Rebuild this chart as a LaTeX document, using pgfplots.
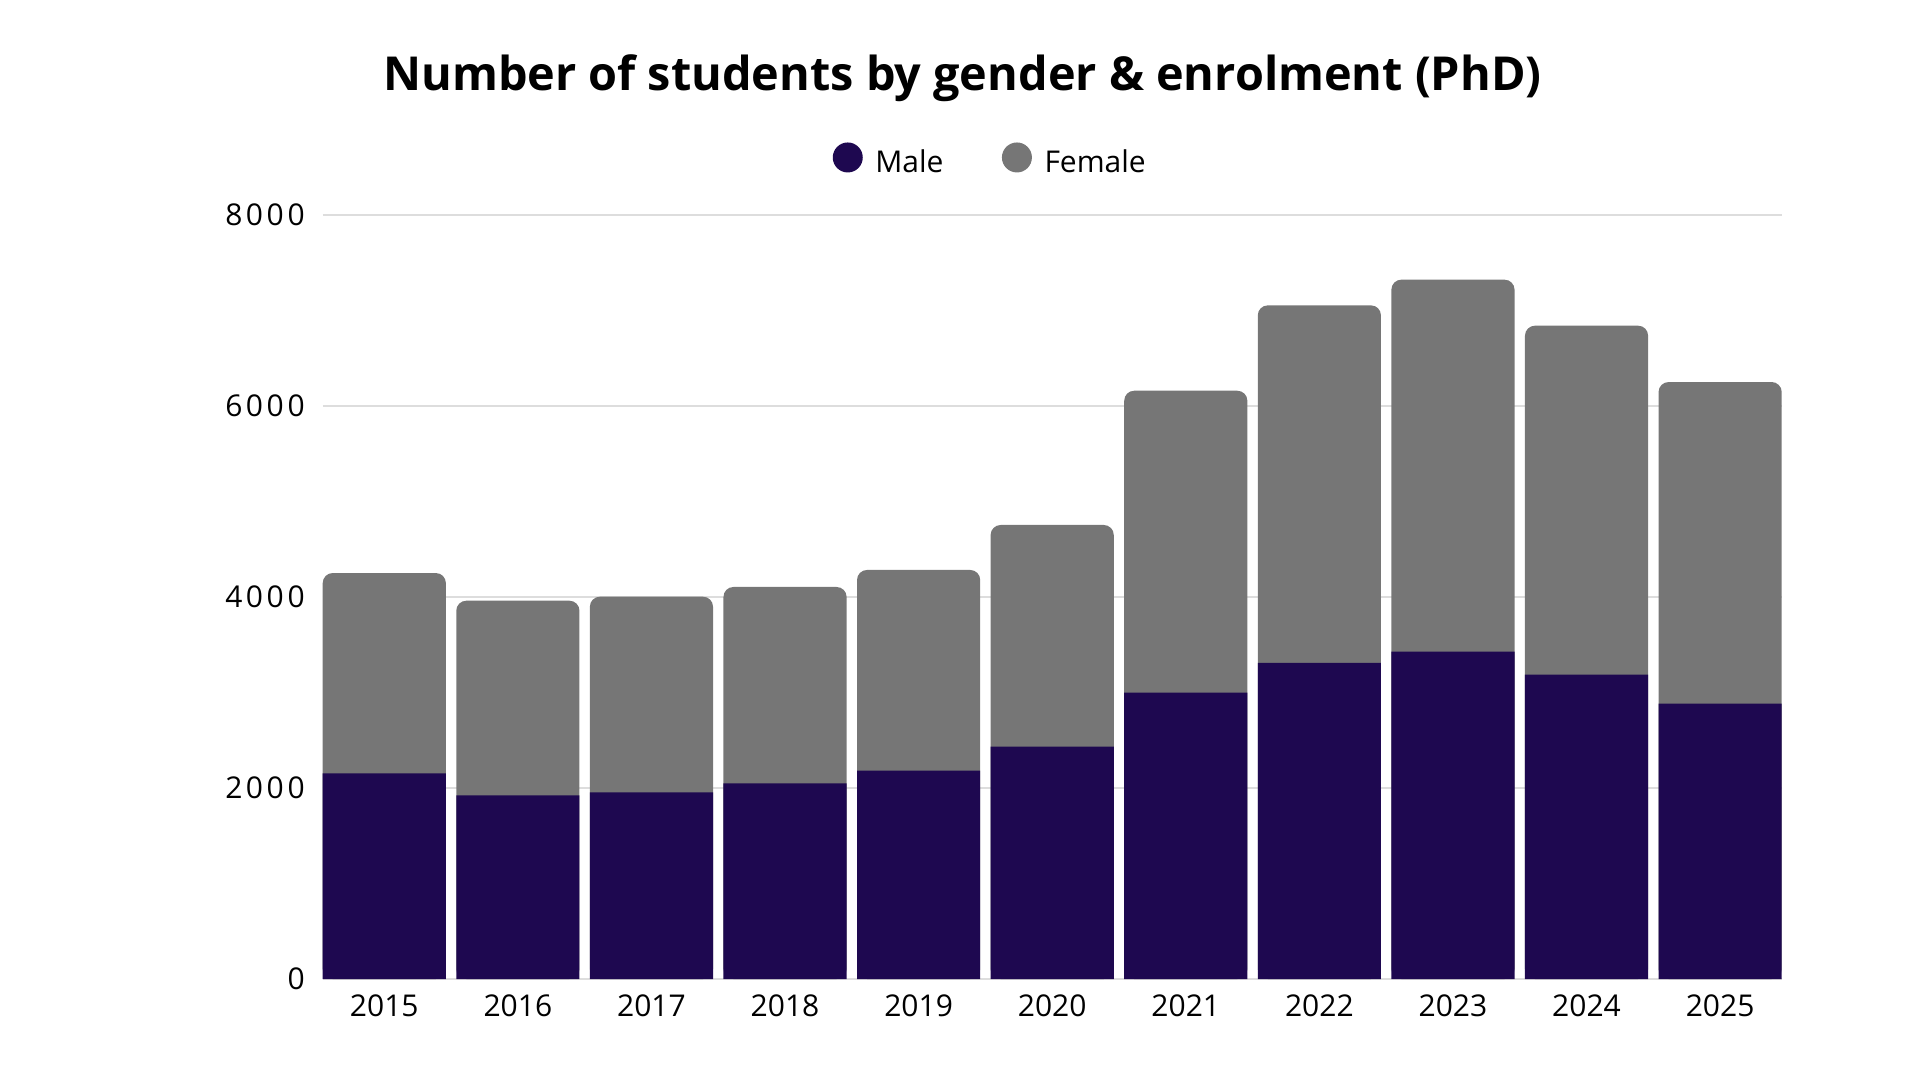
\documentclass[border=0pt]{standalone}
\usepackage{fontspec}
\setmainfont{Open Sans}
\usepackage{pgfplots}
\usepackage{pgfplotstable}
\pgfplotsset{compat=1.18}
\definecolor{malec}{RGB}{30,8,80}
\definecolor{femalec}{RGB}{118,118,118}
\definecolor{gridc}{RGB}{221,221,221}
% year index, male, female, total (male+female)
\pgfplotstableread{
x year male female total
0 2015 2153 2098 4251
1 2016 1923 2038 3961
2 2017 1954 2049 4003
3 2018 2048 2057 4105
4 2019 2181 2102 4283
5 2020 2433 2321 4754
6 2021 2998 3162 6160
7 2022 3309 3745 7054
8 2023 3428 3895 7323
9 2024 3187 3654 6841
10 2025 2883 3368 6251
}\datatable
\begin{document}
\begin{tikzpicture}
\useasboundingbox (0,0) rectangle (960bp,540bp);
\begin{axis}[
  at={(161.35bp,50.5bp)}, anchor=south west,
  scale only axis, width=729.5bp, height=382bp,
  ybar, bar width=0.922,
  legend image code/.code={\fill[#1] (7.5bp,2.6bp) circle (7.5bp);},
  xmin=-0.461, xmax=10.461, ymin=0, ymax=8000,
  xtick={0,1,2,3,4,5,6,7,8,9,10},
  xticklabels={2015,2016,2017,2018,2019,2020,2021,2022,2023,2024,2025},
  ytick={0,2000,4000,6000,8000},
  ymajorgrids, grid style={gridc, line width=0.75bp},
  axis line style={draw=none}, major tick style={draw=none},
  /pgf/number format/assume math mode=true,
  /pgf/number format/1000 sep={},
  scaled y ticks=false,
  tick label style={font=\fontsize{15bp}{18bp}\selectfont},
  yticklabel style={font=\fontsize{15bp}{18bp}\selectfont\addfontfeatures{LetterSpace=12}, xshift=-5.5bp},
  clip=false,
  title={\bfseries Number of students by gender \& enrolment (PhD)},
  title style={font=\fontsize{23.4bp}{28bp}\selectfont, at={(0.4385,1.161)}, anchor=base, inner sep=0pt, yshift=-5bp},
  reverse legend,
  legend style={at={(0.3496,1.0707)}, anchor=west, draw=none, fill=none,
    inner sep=0pt, outer sep=0pt, legend columns=-1,
    font=\fontsize{15bp}{18bp}\selectfont,
    /tikz/every odd column/.append style={column sep=4.3bp},
    /tikz/every even column/.append style={column sep=27.2bp}},
]
\addplot[fill=femalec, draw=none, rounded corners=5bp, bar shift=0pt] table[x=x, y=total] {\datatable};
\addplot[fill=malec, draw=none, bar shift=0pt] table[x=x, y=male] {\datatable};
\legend{Female, Male}
\end{axis}
\end{tikzpicture}
\end{document}
